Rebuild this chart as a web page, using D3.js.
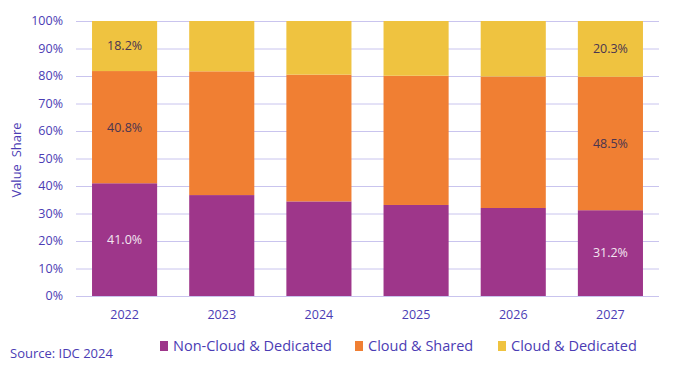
<!DOCTYPE html>
<html><head><meta charset="utf-8">
<script src="https://cdn.jsdelivr.net/npm/d3@7"></script>
<style>body{margin:0;background:#fff}svg{display:block}text{font-family:"Open Sans",sans-serif}</style>
</head><body><svg id="c" width="673" height="367"></svg>
<script>
const years = ["2022","2023","2024","2025","2026","2027"];
const seriesNames = ["Non-Cloud & Dedicated","Cloud & Shared","Cloud & Dedicated"];
const nonCloudDedicated = [41.0, 36.7, 34.4, 33.1, 32.0, 31.2];
const cloudShared      = [40.8, 45.0, 46.1, 47.0, 47.8, 48.5];
const cloudDedicated   = [18.2, 18.3, 19.5, 19.9, 20.2, 20.3];
const yTicks = [0,10,20,30,40,50,60,70,80,90,100];
const shownLabels = [
  {series:0, year:"2022"},{series:1, year:"2022"},{series:2, year:"2022"},
  {series:0, year:"2027"},{series:1, year:"2027"},{series:2, year:"2027"}
];
const colors = ["#9E368A","#F07F33","#EFC340"];
const labelColors = ["#F3E6F1","#4A3550","#4A3550"];
const textColor = "#4B3CB4";

const rows = years.map((y,i)=>({year:y, s0:nonCloudDedicated[i], s1:cloudShared[i], s2:cloudDedicated[i]}));
const stack = d3.stack().keys(["s0","s1","s2"])(rows);

const svg = d3.select("#c");
const x = d3.scaleBand().domain(years).range([76,659]).paddingInner(0.33).paddingOuter(0.165);
const y = d3.scaleLinear().domain([0,100]).range([296,21]);

// grid
svg.append("g").selectAll("line").data(yTicks).join("line")
  .attr("x1",76).attr("x2",659).attr("y1",d=>y(d)+0.5).attr("y2",d=>y(d)+0.5)
  .attr("stroke","#C9C4EE").attr("stroke-width",1);

// y tick labels
svg.append("g").selectAll("text").data(yTicks).join("text")
  .attr("x",63).attr("y",d=>y(d)).attr("dy","0.35em").attr("text-anchor","end")
  .attr("fill",textColor).attr("font-size",12.5).text(d=>d+"%");

// bars
svg.append("g").selectAll("g").data(stack).join("g")
  .attr("fill",(d,i)=>colors[i])
  .selectAll("rect").data(d=>d).join("rect")
  .attr("x",d=>x(d.data.year)).attr("width",x.bandwidth())
  .attr("y",d=>y(d[1])).attr("height",d=>y(d[0])-y(d[1]));

// data labels
svg.append("g").selectAll("text").data(shownLabels).join("text")
  .attr("x",d=>x(d.year)+x.bandwidth()/2)
  .attr("y",d=>{const p=stack[d.series][years.indexOf(d.year)];return y((p[0]+p[1])/2);})
  .attr("dy","0.35em").attr("text-anchor","middle").attr("font-size",12.5)
  .attr("fill",d=>labelColors[d.series])
  .text(d=>{const v=[nonCloudDedicated,cloudShared,cloudDedicated][d.series][years.indexOf(d.year)];return v.toFixed(1)+"%";});

// x labels
svg.append("g").selectAll("text").data(years).join("text")
  .attr("x",d=>x(d)+x.bandwidth()/2).attr("y",315).attr("dy","0.35em")
  .attr("text-anchor","middle").attr("fill",textColor).attr("font-size",12.5).text(d=>d);

// y axis title
svg.append("text").attr("transform","translate(16,160) rotate(-90)")
  .attr("text-anchor","middle").attr("dy","0.35em").attr("fill",textColor)
  .attr("font-size",13).attr("xml:space","preserve").style("white-space","pre").text("Value  Share");

// source
svg.append("text").attr("x",10).attr("y",353).attr("dy","0.35em")
  .attr("fill",textColor).attr("font-size",13).text("Source: IDC 2024");

// legend
const legX = [160,355,498];
const leg = svg.append("g").selectAll("g").data(seriesNames).join("g")
  .attr("transform",(d,i)=>`translate(${legX[i]},346)`);
leg.append("rect").attr("x",0).attr("y",-5).attr("width",8).attr("height",10).attr("fill",(d,i)=>colors[i]);
leg.append("text").attr("x",13).attr("y",0).attr("dy","0.35em").attr("fill",textColor)
  .attr("font-size",14.5).text(d=>d);
</script></body></html>
